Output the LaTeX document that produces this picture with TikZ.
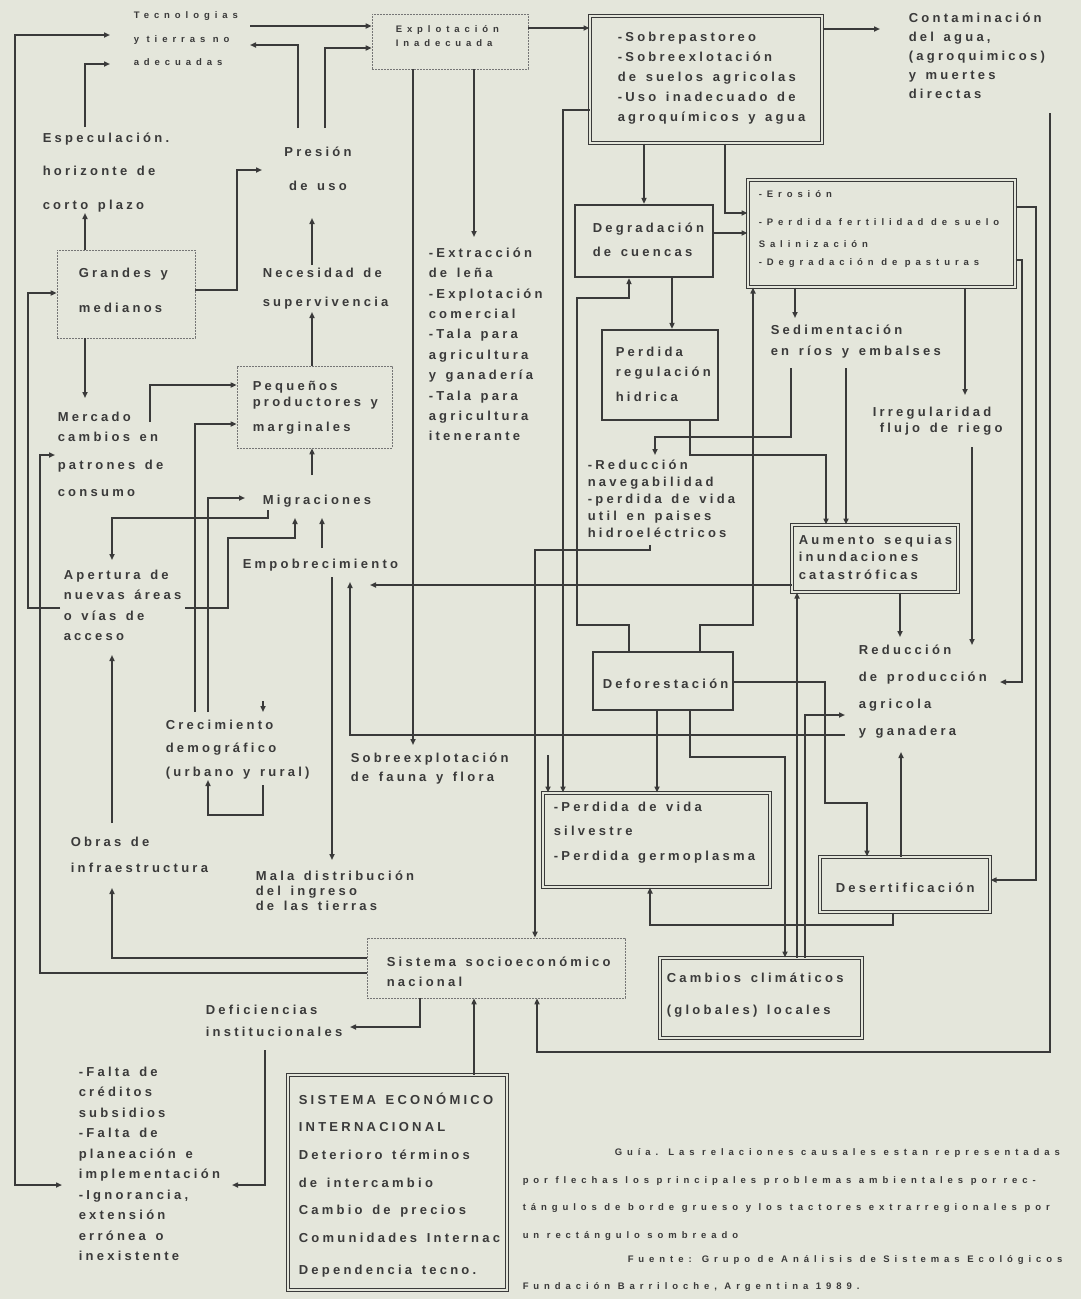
\documentclass[tikz,border=0pt]{standalone}
\usepackage{fontspec}
\usetikzlibrary{arrows.meta, fit, positioning}
\newfontfamily\twfont{Liberation Sans}[LetterSpace=25, WordSpace=1.4]
\newfontfamily\twsmall{Liberation Sans}[LetterSpace=52]
\definecolor{paper}{RGB}{228,230,219}
\definecolor{ink}{RGB}{58,58,58}

\begin{document}
\begin{tikzpicture}[x=1pt, y=-1pt, color=ink, line width=1.5pt,
  arr/.style={-{Triangle[length=6pt,width=5pt]}},
  arrboth/.style={{Triangle[length=6pt,width=5pt]}-{Triangle[length=6pt,width=5pt]}},
  lbl/.style={anchor=north west, yshift=10pt, inner sep=0pt, align=left,
    font=\twfont\bfseries\fontsize{13}{#1}\selectfont, execute at begin node={\rule{0pt}{12pt}}},
  lbl/.default=20,
  sml/.style={anchor=north west, yshift=8pt, inner sep=0pt, align=left,
    font=\twsmall\bfseries\fontsize{9.5}{#1}\selectfont, execute at begin node={\rule{0pt}{9pt}}},
  sml/.default=20,
  thinbox/.style={draw=ink!70, line width=0.6pt, dash pattern=on 2pt off 1pt, inner sep=0pt},
  thickbox/.style={draw, line width=2.2pt, inner sep=0pt},
  probbox/.style={draw, line width=1pt, double=paper, double distance=1.5pt, inner sep=0pt}]

  \fill[paper] (0,0) rectangle (1081,1299);
  \useasboundingbox (0,0) rectangle (1081,1299);

  % boxes
  \node[thinbox, fit={(372,14) (528,69)}] (expl) {};
  \node[probbox, fit={(590,16) (822,143)}] (sobre) {};
  \node[thickbox, fit={(575,205) (713,277)}] (degr) {};
  \node[probbox, fit={(748,180) (1015,287)}] (eros) {};
  \node[thickbox, fit={(602,330) (718,420)}] (preg) {};
  \node[probbox, fit={(792,525) (958,592)}] (aum) {};
  \node[thickbox, fit={(593,652) (733,710)}] (defo) {};
  \node[probbox, fit={(543,793) (770,887)}] (pvida) {};
  \node[probbox, fit={(820,857) (990,912)}] (deser) {};
  \node[probbox, fit={(660,958) (862,1038)}] (camb) {};
  \node[thinbox, fit={(57,250) (195,338)}] (grandes) {};
  \node[thinbox, fit={(237,366) (392,448)}] (peque) {};
  \node[thinbox, fit={(367,938) (625,998)}] (sisnac) {};
  \node[probbox, fit={(288,1075) (507,1290)}] (sisint) {};

  % texts
  \node[sml=23.5] (tecno) at (133,19) {Tecnologias\\y tierras no\\adecuadas};
  \node[sml=14] (expl-t) at (395,33) {Explotación\\Inadecuada};
  \node[lbl=20] (sobre-t) at (617,41) {-Sobrepastoreo\\-Sobreexlotación\\de suelos agricolas\\-Uso inadecuado de\\agroquímicos y agua};
  \node[lbl=19] (conta) at (908,22) {Contaminación\\del agua,\\(agroquimicos)\\y muertes\\directas};
  \node[lbl=33.5] (espec) at (42,142) {Especulación.\\horizonte de\\corto plazo};
  \node[lbl=34, align=center, anchor=north] (presion) at (318,156) {Presión\\de uso};
  \node[lbl=24] (degr-t) at (592,232) {Degradación\\de cuencas};
  \node[sml=20] (eros-t) at (758,198) {-Erosión\\[8pt]-Perdida fertilidad de suelo\\[2pt]Salinización\\[-2pt]-Degradación de pasturas};
  \node[lbl=20] (preg-t) at (615,356) {Perdida\\regulación\\[5pt]hidrica};
  \node[lbl=20.4] (extr) at (428,257) {-Extracción\\de leña\\-Explotación\\comercial\\-Tala para\\agricultura\\y ganadería\\-Tala para\\agricultura\\itenerante};
  \node[lbl=35] (grandes-t) at (78,277) {Grandes y\\medianos};
  \node[lbl=29] (neces) at (262,277) {Necesidad de\\supervivencia};
  \node[lbl=16] (peque-t) at (252,390) {Pequeños\\productores y\\[9pt]marginales};
  \node[lbl=20] (merc) at (57,421) {Mercado\\cambios en\\[8pt]patrones de\\[7pt]consumo};
  \node[lbl] (migr) at (262,502) {Migraciones};
  \node[lbl] (empob) at (242,566) {Empobrecimiento};
  \node[lbl=20.5] (apert) at (63,579) {Apertura de\\nuevas áreas\\o vías de\\acceso};
  \node[lbl=17] (redn) at (587,469) {-Reducción\\navegabilidad\\-perdida de vida\\util en paises\\hidroeléctricos};
  \node[lbl=21] (sedim) at (770,334) {Sedimentación\\en ríos y embalses};
  \node[lbl=16] (irreg) at (872,416) {Irregularidad\\\hspace*{7pt}flujo de riego};
  \node[lbl=17.5] (aum-t) at (798,544) {Aumento sequias\\inundaciones\\catastróficas};
  \node[lbl=27] (redp) at (858,654) {Reducción\\de producción\\agricola\\y ganadera};
  \node[lbl] (defo-t) at (602,686) {Deforestación};
  \node[lbl=23.5] (crec) at (165,729) {Crecimiento\\demográfico\\(urbano y rural)};
  \node[lbl=19.5] (fauna) at (350,762) {Sobreexplotación\\de fauna y flora};
  \node[lbl=24.5] (pvida-t) at (553,811) {-Perdida de vida\\silvestre\\-Perdida germoplasma};
  \node[lbl=26.5] (obras) at (70,846) {Obras de\\infraestructura};
  \node[lbl=15] (mala) at (255,880) {Mala distribución\\del ingreso\\de las tierras};
  \node[lbl] (deser-t) at (835,890) {Desertificación};
  \node[lbl=20.5] (sisnac-t) at (386,966) {Sistema socioeconómico\\nacional};
  \node[lbl=32] (camb-t) at (666,982) {Cambios climáticos\\(globales) locales};
  \node[lbl=22] (defic) at (205,1014) {Deficiencias\\institucionales};
  \node[lbl=20.5] (falta) at (78,1076) {-Falta de\\créditos\\subsidios\\-Falta de\\planeación e\\implementación\\-Ignorancia,\\extensión\\errónea o\\inexistente};
  \node[lbl=27.6] (sisint-t) at (298,1102) {SISTEMA ECONÓMICO\\INTERNACIONAL\\Deterioro términos\\de intercambio\\Cambio de precios\\Comunidades Internac\\[5pt]Dependencia tecno.};
  \node[sml=27.5] (guia) at (522,1156) {\hspace*{92pt}Guía. Las relaciones causales estan representadas\\por flechas los principales problemas ambientales por rec-\\tángulos de borde grueso y los tactores extrarregionales por\\un rectángulo sombreado};
  \node[sml=27] (fuente) at (522,1263) {\hspace*{105pt}Fuente: Grupo de Análisis de Sistemas Ecológicos\\Fundación Barriloche, Argentina 1989.};

  % free ends of the connectors next to the texts
  \coordinate (tecno-l1) at (110,35);
  \coordinate (tecno-l2) at (110,64);
  \coordinate (tecno-r1) at (250,26);
  \coordinate (tecno-r2) at (250,45);
  \coordinate (falta-l) at (62,1185);
  \coordinate (falta-r) at (232,1185);
  \coordinate (espec-up) at (85,127);
  \coordinate (espec-dn) at (85,213);
  \coordinate (pres-a) at (298,128);
  \coordinate (pres-b) at (325,128);
  \coordinate (pres-w) at (262,170);
  \coordinate (pres-dn) at (312,218);
  \coordinate (neces-up) at (312,265);
  \coordinate (neces-dn) at (312,312);
  \coordinate (extr-up) at (474,237);
  \coordinate (fauna-up) at (413,745);
  \coordinate (conta-l) at (880,29);
  \coordinate (conta-dn) at (1050,113);
  \coordinate (sedim-up) at (795,318);
  \coordinate (sedim-dn1) at (791,368);
  \coordinate (sedim-dn2) at (846,368);
  \coordinate (irreg-up) at (965,395);
  \coordinate (irreg-dn) at (972,447);
  \coordinate (redn-up) at (655,455);
  \coordinate (redn-dn) at (650,545);
  \coordinate (redp-up) at (900,637);
  \coordinate (redp-up2) at (972,645);
  \coordinate (redp-r) at (1000,682);
  \coordinate (redp-l) at (845,715);
  \coordinate (redp-l2) at (845,735);
  \coordinate (redp-dn) at (901,752);
  \coordinate (empob-r) at (370,585);
  \coordinate (empob-dn) at (350,582);
  \coordinate (empob-dn2) at (332,577);
  \coordinate (empob-up) at (322,548);
  \coordinate (mala-up) at (332,860);
  \coordinate (pvida-in) at (548,755);
  \coordinate (defic-r) at (350,1027);
  \coordinate (defic-dn) at (265,1050);
  \coordinate (obras-dn) at (112,888);
  \coordinate (obras-up) at (112,823);
  \coordinate (merc-l) at (55,455);
  \coordinate (merc-r) at (150,422);
  \coordinate (merc-up) at (85,398);
  \coordinate (apert-dn) at (112,655);
  \coordinate (apert-up) at (112,560);
  \coordinate (apert-l) at (60,608);
  \coordinate (apert-r) at (185,608);
  \coordinate (migr-l) at (268,510);
  \coordinate (migr-w) at (245,498);
  \coordinate (migr-dn1) at (295,518);
  \coordinate (migr-dn2) at (322,518);
  \coordinate (migr-up) at (312,475);
  \coordinate (crec-up1) at (195,712);
  \coordinate (crec-up2) at (208,712);
  \coordinate (crec-lp1) at (263,785);
  \coordinate (crec-lp2) at (208,780);
  \coordinate (crec-t1) at (263,701);
  \coordinate (crec-t2) at (263,712);

  % connectors, top part
  \draw[arrboth] (falta-l) -| (15,35) -- (tecno-l1);
  \draw[arr] (espec-up) |- (tecno-l2);
  \draw[arr] (tecno-r1) -- (expl.west |- tecno-r1);
  \draw[arr] (pres-a) |- (tecno-r2);
  \draw[arr] (pres-b) |- (expl.west |- 0,48);
  \draw[arr] (expl.east |- 0,28) -- (sobre.west |- 0,28);
  \draw[arr] (expl.south -| 474,0) -- (extr-up);
  \draw[arr] (expl.south -| 413,0) -- (fauna-up);
  \draw[arr] (sobre.east |- 0,29) -- (conta-l);
  \draw[arr] (conta-dn) -- (1050,1052) -| (sisnac.south -| 537,0);
  \draw[arr] (sobre.south -| 644,0) -- (degr.north -| 644,0);
  \draw[arr] (sobre.south -| 725,0) |- (eros.west |- 0,213);
  \draw[arr] (sobre.west |- 0,110) -| (pvida.north -| 563,0);
  \draw[arr] (degr.east |- 0,233) -- (eros.west |- 0,233);
  \draw[arr] (degr.south -| 672,0) -- (preg.north -| 672,0);
  \draw[arr] (eros.east |- 0,207) -- (1036,207) |- (deser.east |- 0,880);
  \draw[arr] (eros.east |- 0,260) -- (1022,260) |- (redp-r);
  \draw[arr] (eros.south -| 795,0) -- (sedim-up);
  \draw[arr] (eros.south -| 965,0) -- (irreg-up);

  % connectors, middle part
  \draw[arr] (defo.north -| 700,0) -- (700,625) -| (eros.south -| 753,0);
  \draw[arr] (defo.north -| 629,0) -- (629,625) -| (577,298) -| (degr.south -| 629,0);
  \draw[arr] (sedim-dn1) |- (655,437) -- (redn-up);
  \draw[arr] (sedim-dn2) -- (aum.north -| 846,0);
  \draw[arr] (preg.south -| 690,0) |- (826,455) -- (aum.north -| 826,0);
  \draw[arr] (irreg-dn) -- (redp-up2);
  \draw[arr] (redn-dn) |- (535,550) -- (sisnac.north -| 535,0);
  \draw[arr] (aum.west |- 0,585) -- (empob-r);
  \draw[arr] (aum.south -| 900,0) -- (redp-up);
  \draw[arr] (camb.north -| 797,0) -- (aum.south -| 797,0);
  \draw[arr] (camb.north -| 805,0) |- (redp-l);
  \draw[arr] (defo.south -| 690,0) |- (785,757) -- (camb.north -| 785,0);
  \draw[arr] (defo.south -| 657,0) -- (pvida.north -| 657,0);
  \draw[arr] (defo.east |- 0,682) -| (825,803) -| (deser.north -| 867,0);
  \draw[arr] (deser.north -| 901,0) -- (redp-dn);
  \draw[arr] (deser.south -| 893,0) |- (650,925) -- (pvida.south -| 650,0);
  \draw[arr] (redp-l2) -| (empob-dn);
  \draw[arr] (empob-dn2) -- (mala-up);
  \draw[arr] (pvida-in) -- (pvida.north -| 548,0);

  % connectors, bottom and left part
  \draw[arr] (sisint.north -| 474,0) -- (sisnac.south -| 474,0);
  \draw[arr] (sisnac.south -| 420,0) |- (defic-r);
  \draw[arr] (defic-dn) |- (falta-r);
  \draw[arr] (sisnac.west |- 0,958) -| (obras-dn);
  \draw[arr] (sisnac.west |- 0,973) -| (40,455) -- (merc-l);
  \draw[arr] (obras-up) -- (apert-dn);
  \draw[arr] (apert-l) -| (28,293) -- (grandes.west |- 0,293);
  \draw[arr] (apert-r) -| (228,538) -| (migr-dn1);
  \draw[arr] (migr-l) |- (112,518) -- (apert-up);
  \draw[arr] (empob-up) -- (migr-dn2);
  \draw[arr] (migr-up) -- (peque.south -| 312,0);
  \draw[arr] (crec-up1) |- (peque.west |- 0,424);
  \draw[arr] (crec-up2) |- (migr-w);
  \draw[arr] (crec-lp1) |- (208,815) -- (crec-lp2);
  \draw[arr] (crec-t1) -- (crec-t2);
  \draw[arr] (merc-r) |- (peque.west |- 0,385);
  \draw[arr] (grandes.south -| 85,0) -- (merc-up);
  \draw[arr] (grandes.north -| 85,0) -- (espec-dn);
  \draw[arr] (grandes.east |- 0,290) -| (237,170) -- (pres-w);
  \draw[arr] (neces-up) -- (pres-dn);
  \draw[arr] (peque.north -| 312,0) -- (neces-dn);
\end{tikzpicture}
\end{document}
